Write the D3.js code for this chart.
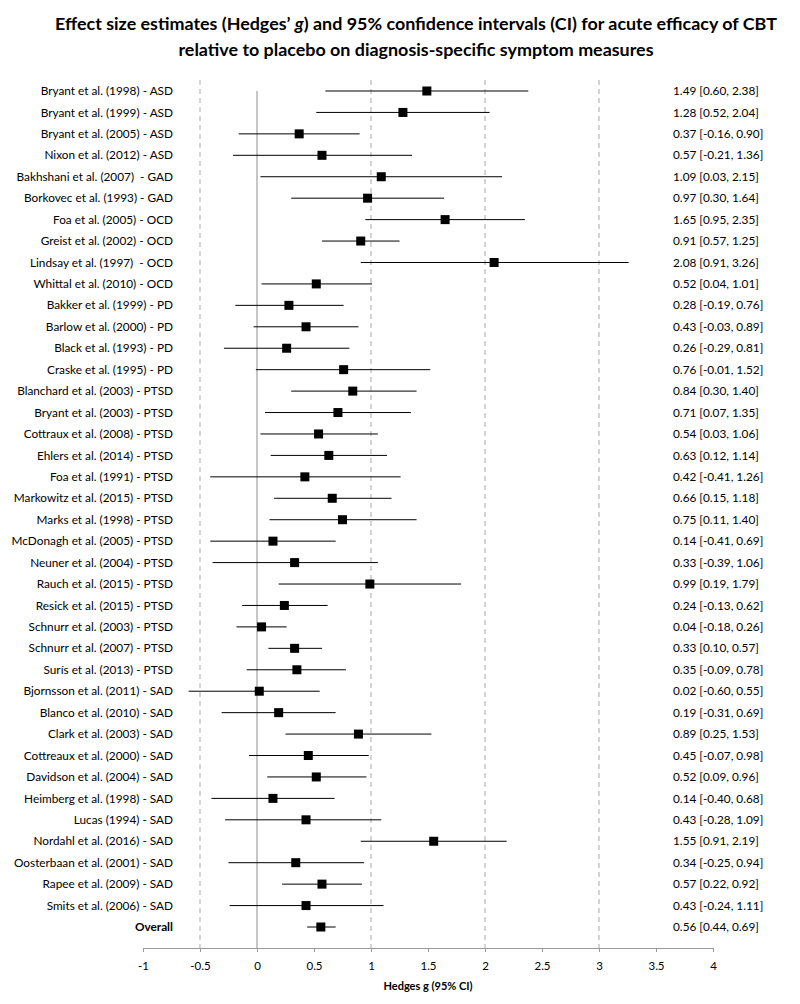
<!DOCTYPE html>
<html><head><meta charset="utf-8">
<script src="https://cdn.jsdelivr.net/npm/d3@7"></script>
<style>
body{margin:0;background:#fff;}
text{font-family:Lato,"Open Sans",sans-serif;}
</style></head>
<body><svg id="c" width="800" height="1004"></svg>
<script>
const studies = ["Bryant et al. (1998) - ASD","Bryant et al. (1999) - ASD","Bryant et al. (2005) - ASD","Nixon et al. (2012) - ASD","Bakhshani et al. (2007)  - GAD","Borkovec et al. (1993) - GAD","Foa et al. (2005) - OCD","Greist et al. (2002) - OCD","Lindsay et al. (1997)  - OCD","Whittal et al. (2010) - OCD","Bakker et al. (1999) - PD","Barlow et al. (2000) - PD","Black et al. (1993) - PD","Craske et al. (1995) - PD","Blanchard et al. (2003) - PTSD","Bryant et al. (2003) - PTSD","Cottraux et al. (2008) - PTSD","Ehlers et al. (2014) - PTSD","Foa et al. (1991) - PTSD","Markowitz et al. (2015) - PTSD","Marks et al. (1998) - PTSD","McDonagh et al. (2005) - PTSD","Neuner et al. (2004) - PTSD","Rauch et al. (2015) - PTSD","Resick et al. (2015) - PTSD","Schnurr et al. (2003) - PTSD","Schnurr et al. (2007) - PTSD","Surís et al. (2013) - PTSD","Bjornsson et al. (2011) - SAD","Blanco et al. (2010) - SAD","Clark et al. (2003) - SAD","Cottreaux et al. (2000) - SAD","Davidson et al. (2004) - SAD","Heimberg et al. (1998) - SAD","Lucas (1994) - SAD","Nordahl et al. (2016) - SAD","Oosterbaan et al. (2001) - SAD","Rapee et al. (2009) - SAD","Smits et al. (2006) - SAD","Overall"];
const g     = [1.49,1.28,0.37,0.57,1.09,0.97,1.65,0.91,2.08,0.52,0.28,0.43,0.26,0.76,0.84,0.71,0.54,0.63,0.42,0.66,0.75,0.14,0.33,0.99,0.24,0.04,0.33,0.35,0.02,0.19,0.89,0.45,0.52,0.14,0.43,1.55,0.34,0.57,0.43,0.56];
const lower = [0.60,0.52,-0.16,-0.21,0.03,0.30,0.95,0.57,0.91,0.04,-0.19,-0.03,-0.29,-0.01,0.30,0.07,0.03,0.12,-0.41,0.15,0.11,-0.41,-0.39,0.19,-0.13,-0.18,0.10,-0.09,-0.60,-0.31,0.25,-0.07,0.09,-0.40,-0.28,0.91,-0.25,0.22,-0.24,0.44];
const upper = [2.38,2.04,0.90,1.36,2.15,1.64,2.35,1.25,3.26,1.01,0.76,0.89,0.81,1.52,1.40,1.35,1.06,1.14,1.26,1.18,1.40,0.69,1.06,1.79,0.62,0.26,0.57,0.78,0.55,0.69,1.53,0.98,0.96,0.68,1.09,2.19,0.94,0.92,1.11,0.69];
const xTicks = [-1,-0.5,0,0.5,1,1.5,2,2.5,3,3.5,4];
const dashedAt = [-0.5,1,2,3];
const title = ["Effect size estimates (Hedges’ g) and 95% confidence intervals (CI) for acute efficacy of CBT","relative to placebo on diagnosis-specific symptom measures"];
const xTitle = "Hedges g (95% CI)";

const svg = d3.select("#c");
const x = d3.scaleLinear().domain([-1,4]).range([143,713]);
const y = d3.scalePoint().domain(d3.range(studies.length)).range([91,927]);
const axisY = 948, gridTop = 80;

// title
const t = svg.append("text").attr("x",416).attr("text-anchor","middle")
  .style("font-weight","bold").style("font-size","17.9px").attr("fill","#000");
t.append("tspan").attr("x",416).attr("y",30).text("Effect size estimates (Hedges’ ");
t.append("tspan").style("font-style","italic").text("g");
t.append("tspan").text(") and 95% confidence intervals (CI) for acute efficacy of CBT");
t.append("tspan").attr("x",416).attr("y",56).text(title[1]);

// gridlines
svg.append("g").selectAll("line").data(dashedAt).join("line")
  .attr("x1",d=>x(d)).attr("x2",d=>x(d)).attr("y1",gridTop).attr("y2",axisY)
  .attr("stroke","#b8b8b8").attr("stroke-width",1.2).attr("stroke-dasharray","5,4");
svg.append("line").attr("x1",x(0)).attr("x2",x(0)).attr("y1",gridTop+11).attr("y2",axisY)
  .attr("stroke","#8c8c8c").attr("stroke-width",1);

// axis
const ax = svg.append("g").attr("transform",`translate(0,${axisY})`)
  .call(d3.axisBottom(x).tickValues(xTicks).tickSize(4).tickSizeOuter(0));
ax.select(".domain").attr("stroke","#999");
ax.selectAll(".tick line").attr("stroke","#999");
ax.selectAll(".tick text").attr("fill","#000").style("font-size","11.5px").attr("dy","1.3em")
  .style("font-family","Lato,sans-serif").text(d=>String(d));
svg.append("text").attr("x",428).attr("y",990).attr("text-anchor","middle")
  .style("font-weight","bold").style("font-size","11px").text(xTitle);

// rows
const rows = svg.append("g").selectAll("g").data(studies.map((s,i)=>i)).join("g");
rows.append("line").attr("x1",i=>x(lower[i])).attr("x2",i=>x(upper[i]))
  .attr("y1",i=>y(i)).attr("y2",i=>y(i)).attr("stroke","#000").attr("stroke-width",1);
rows.append("rect").attr("x",i=>x(g[i])-4.5).attr("y",i=>y(i)-4.5).attr("width",9).attr("height",9).attr("fill","#000");
rows.append("text").attr("x",173).attr("y",i=>y(i)).attr("dy","0.35em").attr("text-anchor","end")
  .style("font-size","11.8px").style("white-space","pre")
  .style("font-weight",i=>studies[i]==="Overall"?"bold":"normal").text(i=>studies[i]);
const f = v => v.toFixed(2);
rows.append("text").attr("x",673).attr("y",i=>y(i)).attr("dy","0.35em")
  .style("font-size","11.8px").text(i=>`${f(g[i])} [${f(lower[i])}, ${f(upper[i])}]`);
</script></body></html>
